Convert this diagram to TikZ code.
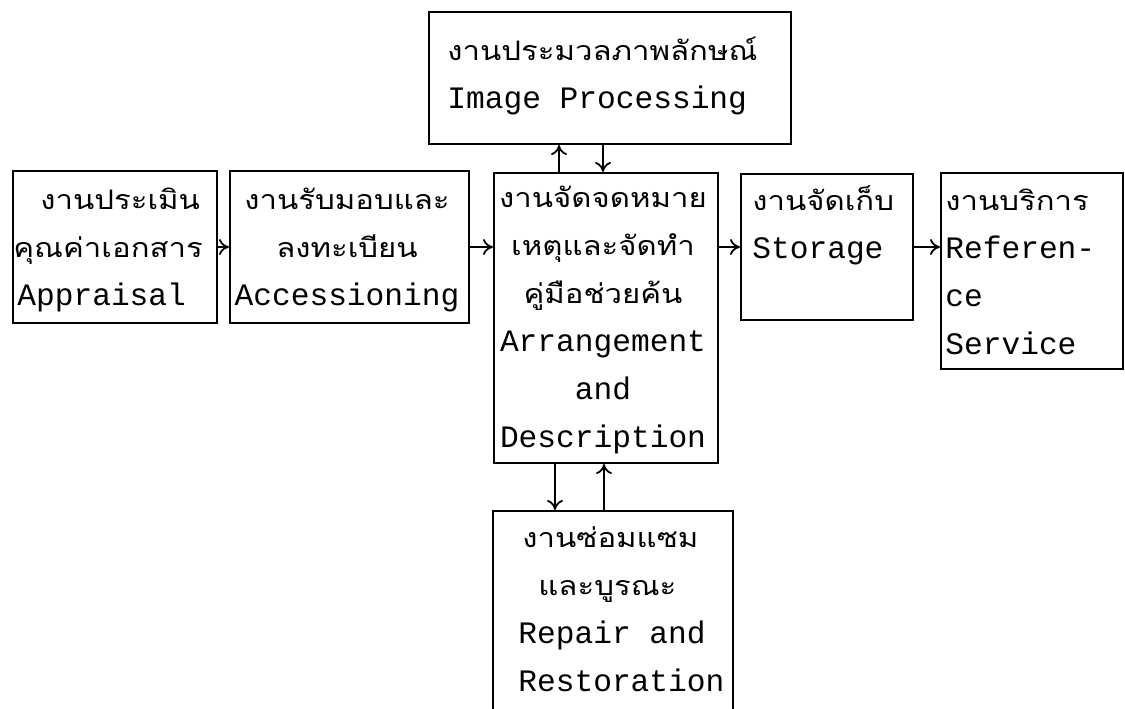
\documentclass[tikz,border=0pt]{standalone}
\usepackage{fontspec}
\setmainfont{Liberation Mono}
\newfontfamily\thai[Script=Thai,Scale=0.86,FakeStretch=1.16]{Loma}
\usepackage{tikz}
\usetikzlibrary{calc,arrows.meta}

\newcommand\fs{\rule{0pt}{18pt}}
\tikzset{
    box/.style={draw, line width=1pt, inner sep=0pt, anchor=north west},
    txt/.style={inner sep=0pt, anchor=north west, align=left,
        font=\fontsize{15.6pt}{24pt}\selectfont},
    flow/.style={-{To[length=5pt,width=8pt]}, line width=0.9pt}
}

\begin{document}
\begin{tikzpicture}[x=0.5pt,y=-0.5pt]

            \useasboundingbox (0,0) rectangle (1125,708);

            % boxes
            \node[box, minimum width=181pt, minimum height=66pt] (img) at (428,11) {};
            \node[box, minimum width=102pt, minimum height=76pt] (appr) at (12,170) {};
            \node[box, minimum width=119.5pt, minimum height=76pt] (acc) at (229,170) {};
            \node[box, minimum width=112pt, minimum height=145pt] (arr) at (493,172) {};
            \node[box, minimum width=86pt, minimum height=73pt] (stor) at (740,173) {};
            \node[box, minimum width=91pt, minimum height=98pt] (ref) at (940,172) {};
            \node[box, minimum width=120pt, minimum height=105pt] (rep) at (492,510) {};

            % texts
            \node[txt] (imgtxt) at (447,24) {\fs{\thai งานประมวลภาพลักษณ์}\\Image Processing};
            \node[txt] (apprtxt) at (13,173) {\fs\hspace*{13.5pt}{\thai งานประเมิน}\\{\thai คุณค่าเอกสาร}\\\hspace*{2pt}Appraisal};
            \node[txt, anchor=north, align=center] (acctxt) at (347,173) {\fs{\thai งานรับมอบและ}\\{\thai ลงทะเบียน}\\Accessioning};
            \node[txt, anchor=north, align=center] (arrtxt) at (603,171) {\fs{\thai งานจัดจดหมาย}\\{\thai เหตุและจัดทำ}\\{\thai คู่มือช่วยค้น}\\Arrangement\\and\\Description};
            \node[txt] (stortxt) at (752,174) {\fs{\thai งานจัดเก็บ}\\Storage};
            \node[txt] (reftxt) at (945,174) {\fs{\thai งานบริการ}\\Referen-\\ce\\Service};
            \node[txt] (reptxt) at (518,511) {\fs\hspace*{2pt}{\thai งานซ่อมแซม}\\\hspace*{10pt}{\thai และบูรณะ}\\Repair and\\Restoration};

            \coordinate (row) at (0,247);
            \coordinate (up1) at (559,0);
            \coordinate (dn1) at (603,0);
            \coordinate (dn2) at (555,0);
            \coordinate (up2) at (604,0);

            % connectors
            \draw[flow] (appr.east |- row) -- (acc.west |- row);
            \draw[flow] (acc.east |- row) -- (arr.west |- row);
            \draw[flow] (arr.east |- row) -- (stor.west |- row);
            \draw[flow] (stor.east |- row) -- (ref.west |- row);
            \draw[flow] (arr.north -| up1) -- (img.south -| up1);
            \draw[flow] (img.south -| dn1) -- (arr.north -| dn1);
            \draw[flow] (arr.south -| dn2) -- (rep.north -| dn2);
            \draw[flow] (rep.north -| up2) -- (arr.south -| up2);
        \end{tikzpicture}
\end{document}
